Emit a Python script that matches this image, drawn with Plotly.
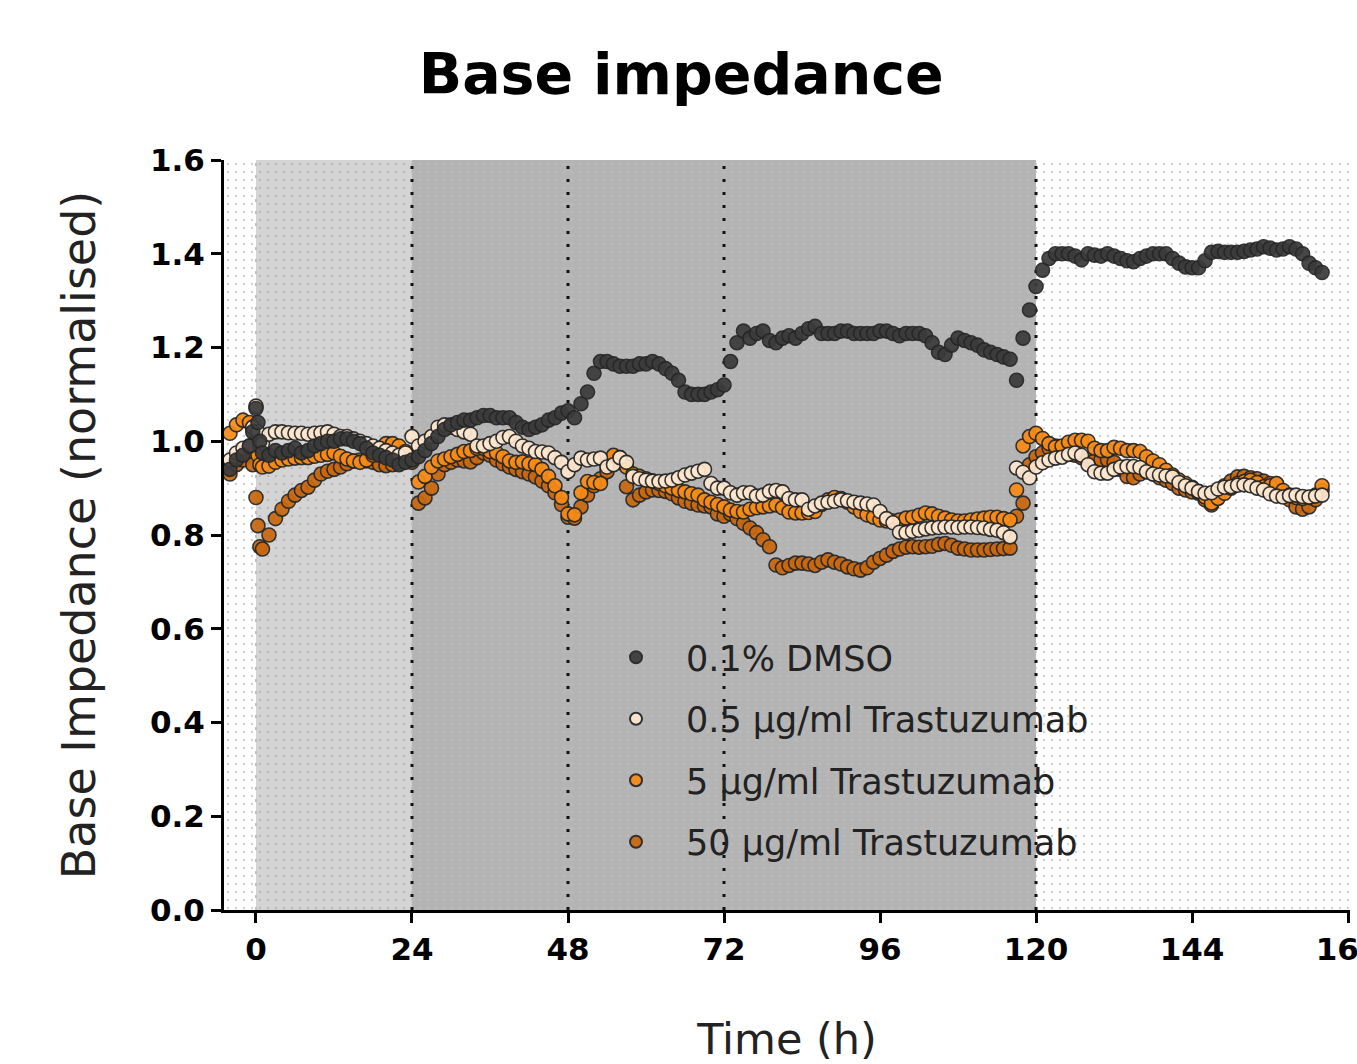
import plotly.graph_objects as go

# Sampling times (h): dense sampling around treatment at t = 0, then hourly
TIME_H = [-5, -4, -3, -2, -1, -0.5, 0, 0.3, 0.6] + list(range(1, 165))

DMSO = [
    0.915, 0.94, 0.96, 0.97, 0.99, 1.02, 1.07, 1.04, 1.00,
    0.975, 0.97, 0.98, 0.975, 0.98, 0.985, 0.975, 0.98, 0.99, 0.995, 1.0, 1.0,
    1.005, 1.005, 1.0, 0.995, 0.985, 0.975, 0.97, 0.965, 0.96, 0.95, 0.955, 0.96,
    0.967, 0.98, 0.995, 1.01, 1.025, 1.035, 1.04, 1.045, 1.045, 1.05, 1.055, 1.055,
    1.05, 1.05, 1.05, 1.04, 1.03, 1.025, 1.03, 1.035, 1.045, 1.05, 1.06, 1.065,
    1.05, 1.08, 1.105, 1.145, 1.17, 1.17, 1.165, 1.16, 1.16, 1.16, 1.165, 1.165,
    1.17, 1.165, 1.155, 1.145, 1.13, 1.105, 1.10, 1.10, 1.10, 1.105, 1.11, 1.12,
    1.17, 1.21, 1.235, 1.22, 1.23, 1.235, 1.215, 1.21, 1.22, 1.225, 1.22, 1.23,
    1.24, 1.245, 1.23, 1.23, 1.23, 1.235, 1.235, 1.23, 1.23, 1.23, 1.23, 1.235,
    1.235, 1.23, 1.225, 1.23, 1.23, 1.23, 1.225, 1.21, 1.19, 1.185, 1.205, 1.22,
    1.215, 1.21, 1.205, 1.195, 1.19, 1.185, 1.18, 1.175, 1.13, 1.22, 1.28, 1.33,
    1.365, 1.39, 1.40, 1.40, 1.40, 1.395, 1.387, 1.40, 1.397, 1.395, 1.40, 1.395,
    1.39, 1.385, 1.383, 1.39, 1.395, 1.40, 1.40, 1.40, 1.39, 1.38, 1.372, 1.37,
    1.37, 1.385, 1.403, 1.405, 1.403, 1.403, 1.403, 1.405, 1.408, 1.41,
    1.415, 1.412, 1.408, 1.41, 1.415, 1.41, 1.40, 1.38, 1.37, 1.36,
]

TRAS_05 = [
    0.95, 0.96, 0.975, 0.985, 0.99, 1.03, 1.075, 1.02, 0.99,
    0.995, 1.015, 1.02, 1.02, 1.018, 1.017, 1.017, 1.015, 1.017, 1.018, 1.02, 1.015,
    1.01, 1.01, 1.005, 1.0, 0.995, 0.99, 0.985, 0.98, 0.975, 0.97, 0.975, 1.01,
    0.99, 1.0, 1.01, 1.03, 1.035, 1.03, 1.025, 1.02, 1.015, 0.99, 0.99, 0.995,
    1.0, 1.008, 1.01, 1.0, 0.99, 0.985, 0.978, 0.977, 0.975, 0.965, 0.955, 0.935,
    0.95, 0.964, 0.96, 0.962, 0.964, 0.945, 0.95, 0.965, 0.955, 0.925, 0.92, 0.917,
    0.915, 0.914, 0.915, 0.917, 0.922, 0.928, 0.932, 0.936, 0.94, 0.91, 0.90, 0.90,
    0.89, 0.885, 0.89, 0.89, 0.883, 0.885, 0.893, 0.895, 0.892, 0.878, 0.875, 0.875,
    0.855, 0.862, 0.868, 0.87, 0.872, 0.875, 0.873, 0.87, 0.868, 0.866, 0.864, 0.85,
    0.835, 0.826, 0.806, 0.805, 0.808, 0.81, 0.813, 0.815, 0.816, 0.817, 0.817, 0.816,
    0.817, 0.817, 0.816, 0.815, 0.812, 0.81, 0.805, 0.796, 0.943, 0.934, 0.922, 0.945,
    0.954, 0.96, 0.964, 0.966, 0.972, 0.975, 0.97, 0.95, 0.935, 0.932, 0.932, 0.94,
    0.945, 0.946, 0.946, 0.944, 0.935, 0.93, 0.928, 0.926, 0.924, 0.912, 0.905, 0.90,
    0.893, 0.889, 0.89, 0.898, 0.902, 0.903, 0.906, 0.907, 0.905, 0.90,
    0.896, 0.888, 0.883, 0.881, 0.884, 0.885, 0.882, 0.881, 0.883, 0.885,
]

TRAS_5 = [
    0.99, 1.017, 1.035, 1.045, 1.04, 1.03, 1.00, 0.97, 0.95,
    0.945, 0.947, 0.955, 0.96, 0.962, 0.964, 0.965, 0.965, 0.968, 0.97, 0.972, 0.975,
    0.968, 0.962, 0.958, 0.955, 0.96, 0.97, 0.985, 0.995, 0.995, 0.99, 0.978, 0.96,
    0.913, 0.925, 0.945, 0.958, 0.962, 0.967, 0.972, 0.978, 0.98, 0.985, 0.985, 0.978,
    0.975, 0.967, 0.958, 0.955, 0.956, 0.952, 0.95, 0.94, 0.925, 0.905, 0.88, 0.845,
    0.843, 0.89, 0.914, 0.912, 0.91, 0.95, 0.97, 0.965, 0.945, 0.93, 0.925, 0.92,
    0.915, 0.91, 0.905, 0.90, 0.895, 0.892, 0.888, 0.885, 0.875, 0.87, 0.865, 0.86,
    0.853, 0.85, 0.849, 0.855, 0.858, 0.86, 0.862, 0.864, 0.858, 0.849, 0.847, 0.847,
    0.848, 0.85, 0.865, 0.875, 0.88, 0.878, 0.87, 0.86, 0.85, 0.843, 0.838, 0.832,
    0.83, 0.83, 0.832, 0.836, 0.838, 0.842, 0.847, 0.845, 0.84, 0.836, 0.832, 0.83,
    0.83, 0.832, 0.834, 0.836, 0.838, 0.838, 0.835, 0.832, 0.896, 0.99, 1.01, 1.017,
    1.006, 0.995, 0.988, 0.99, 0.998, 1.002, 1.002, 1.0, 0.985, 0.98, 0.98, 0.987,
    0.985, 0.98, 0.98, 0.978, 0.967, 0.958, 0.95, 0.938, 0.928, 0.917, 0.91, 0.902,
    0.892, 0.881, 0.868, 0.878, 0.889, 0.90, 0.91, 0.914, 0.917, 0.912,
    0.903, 0.905, 0.91, 0.895, 0.885, 0.88, 0.878, 0.88, 0.885, 0.905,
]

TRAS_50 = [
    0.864, 0.93, 0.95, 0.96, 0.97, 0.95, 0.88, 0.82, 0.775,
    0.77, 0.80, 0.835, 0.855, 0.872, 0.885, 0.895, 0.902, 0.917, 0.93, 0.936, 0.94,
    0.945, 0.952, 0.958, 0.96, 0.958, 0.955, 0.95, 0.948, 0.95, 0.955, 0.96, 0.955,
    0.868, 0.879, 0.90, 0.93, 0.95, 0.955, 0.96, 0.958, 0.956, 0.965, 0.975, 0.97,
    0.96, 0.952, 0.945, 0.94, 0.935, 0.93, 0.924, 0.915, 0.905, 0.89, 0.865, 0.838,
    0.836, 0.86, 0.885, 0.905, 0.92, 0.935, 0.967, 0.955, 0.903, 0.875, 0.885, 0.892,
    0.896, 0.895, 0.893, 0.888, 0.879, 0.872, 0.868, 0.864, 0.862, 0.86, 0.845, 0.84,
    0.845, 0.835, 0.825, 0.815, 0.805, 0.79, 0.775, 0.736, 0.73, 0.735, 0.74, 0.74,
    0.738, 0.735, 0.742, 0.747, 0.742, 0.738, 0.732, 0.728, 0.725, 0.73, 0.742, 0.75,
    0.757, 0.765, 0.77, 0.774, 0.775, 0.774, 0.775, 0.776, 0.78, 0.782, 0.778, 0.772,
    0.77, 0.768, 0.768, 0.768, 0.769, 0.77, 0.771, 0.772, 0.84, 0.868, 0.95, 0.967,
    0.975, 0.985, 0.99, 0.98, 0.975, 0.97, 0.965, 0.96, 0.958, 0.96, 0.96, 0.955,
    0.94, 0.925, 0.922, 0.93, 0.935, 0.93, 0.922, 0.917, 0.91, 0.90, 0.896, 0.892,
    0.889, 0.875, 0.864, 0.88, 0.905, 0.915, 0.924, 0.925, 0.922, 0.92,
    0.915, 0.91, 0.908, 0.89, 0.875, 0.86, 0.855, 0.86, 0.875, 0.895,
]

SERIES_NAMES = ["0.1% DMSO", "0.5 µg/ml Trastuzumab", "5 µg/ml Trastuzumab", "50 µg/ml Trastuzumab"]
SERIES_VALUES = [DMSO, TRAS_05, TRAS_5, TRAS_50]
SERIES_COLORS = ["#3b3b3b", "#fde7cf", "#f78b16", "#c9680f"]

# Experimental phases shown as background bands (h)
PHASE_START = [-5, 0, 24, 120]
PHASE_END = [0, 24, 120, 168.3]
PHASE_FILL = ["#ffffff", "#d4d4d4", "#b4b4b4", "#ffffff"]
PHASE_DOTS = ["#a3a3a3", "#a0a0a0", "#c4c4c4", "#a3a3a3"]

# Medium changes marked with dotted lines (h)
MEDIUM_CHANGE_H = [24, 48, 72, 120]

X_TICKS = [0, 24, 48, 72, 96, 120, 144, 168]
Y_MAX = 1.6

for vals in SERIES_VALUES:
    assert len(vals) == len(TIME_H)

FONT = "DejaVu Sans"

fig = go.Figure()

# Patterned background bands
for x0, x1, fill, dots in zip(PHASE_START, PHASE_END, PHASE_FILL, PHASE_DOTS):
    fig.add_trace(go.Bar(
        x=[(x0 + x1) / 2], y=[Y_MAX], base=0, width=[x1 - x0],
        marker=dict(color=fill, line=dict(width=0),
                    pattern=dict(shape=".", fgcolor=dots, size=8, solidity=0.08)),
        showlegend=False, hoverinfo="skip",
    ))

# Faint boundary at treatment start
fig.add_trace(go.Scatter(
    x=[0, 0], y=[0, Y_MAX], mode="lines",
    line=dict(color="#bdbdbd", width=2, dash="3px,9px"),
    showlegend=False, hoverinfo="skip",
))

# Dotted medium-change lines
for t in MEDIUM_CHANGE_H:
    fig.add_trace(go.Scatter(
        x=[t, t], y=[0, Y_MAX], mode="lines",
        line=dict(color="#111111", width=3, dash="3px,10px"),
        showlegend=False, hoverinfo="skip",
    ))

# Data series, drawn from the highest dose up so the control ends on top
draw_order = [3, 2, 1, 0]
for i in draw_order:
    fig.add_trace(go.Scatter(
        x=TIME_H, y=SERIES_VALUES[i], mode="markers", name=SERIES_NAMES[i],
        legendrank=i + 1, legendgroup=f"g{i}",
        marker=dict(size=14, color=SERIES_COLORS[i], opacity=0.93,
                    line=dict(color="#262626", width=1.6)),
        cliponaxis=False,
    ))

fig.update_layout(
    width=1357, height=1064,
    margin=dict(l=224, r=7, t=160, b=154, autoexpand=False),
    paper_bgcolor="white", plot_bgcolor="white",
    barmode="overlay", bargap=0,
    font=dict(family=FONT, color="#111111"),
    title=dict(text="Base impedance", x=0.502, xref="container", xanchor="center",
               y=1 - 74 / 1064, yref="container", yanchor="middle",
               font=dict(family=FONT, size=57, weight="bold", color="#000000")),
    showlegend=True,
    legend=dict(x=(586 - 224) / 1126, xanchor="left", y=(910 - 628) / 750, yanchor="top",
                bgcolor="rgba(0,0,0,0)", borderwidth=0,
                font=dict(family=FONT, size=35, color="#222222"),
                itemsizing="constant", itemwidth=90,
                traceorder="grouped", tracegroupgap=13),
)

fig.update_xaxes(
    range=[-4.92, 168.3], tickmode="array", tickvals=X_TICKS,
    ticktext=[str(v) for v in X_TICKS],
    showgrid=False, zeroline=False, automargin=False,
    showline=True, linecolor="#000000", linewidth=3,
    ticks="outside", ticklen=10, tickwidth=3, tickcolor="#000000",
    tickfont=dict(family=FONT, size=31, weight="bold", color="#000000"),
    ticklabeloverflow="allow",
    title=dict(text="Time (h)", font=dict(family=FONT, size=43, color="#222222"), standoff=67),
)

fig.update_yaxes(
    range=[0, Y_MAX], dtick=0.2, tick0=0, tickformat=".1f",
    showgrid=False, zeroline=False, automargin=False,
    showline=True, linecolor="#000000", linewidth=3,
    ticks="outside", ticklen=10, tickwidth=3, tickcolor="#000000",
    tickfont=dict(family=FONT, size=31, weight="bold", color="#000000"),
    title=dict(text="Base Impedance (normalised)", font=dict(family=FONT, size=46, color="#222222"), standoff=40),
)

fig.write_html("out.html")
